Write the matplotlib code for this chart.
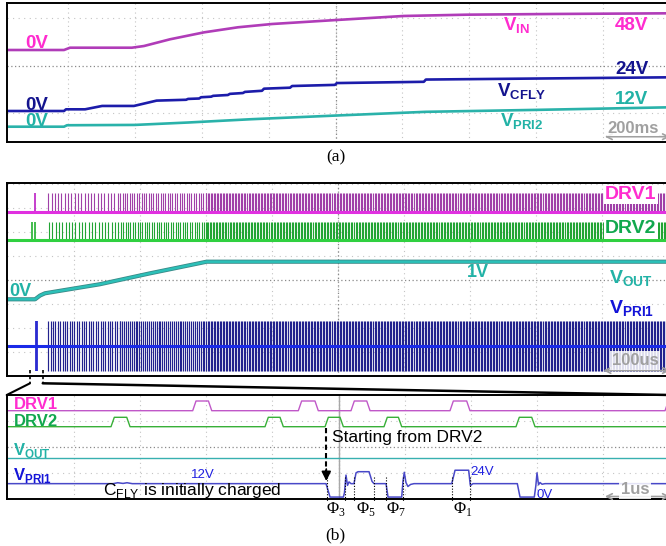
import numpy as np
import matplotlib.pyplot as plt
from matplotlib.patches import ConnectionPatch

plt.rcParams['font.family'] = ['Liberation Sans', 'DejaVu Sans']
plt.rcParams['mathtext.fontset'] = 'custom'
plt.rcParams['mathtext.rm'] = 'Liberation Serif'
plt.rcParams['mathtext.bf'] = 'Liberation Sans:bold'
plt.rcParams['mathtext.sf'] = 'Liberation Sans'

W, H = 666, 546

# ---------- (a) start-up, 200 ms/div (time in ms, volts) ----------
vin_t = [16, 188, 206, 391, 427, 505, 607, 708, 810, 1001, 1204, 1393, 1647, 2000]
vin_v = [0, 0, 3.0, 3.0, 5.2, 14.0, 23.1, 29.7, 34.0, 39.2, 44.5, 46.2, 47.1, 48.0]

vcfly_t = [16, 188, 194, 251, 302, 397, 465, 553, 559, 592, 598, 628, 634, 678, 684,
           723, 729, 780, 786, 864, 870, 998, 1004, 1264, 1270, 2000]
vcfly_v = [0, 0, 1.2, 1.2, 3.6, 3.6, 7.4, 8.0, 8.6, 8.9, 9.8, 10.2, 10.8, 11.4, 12.2,
           12.8, 13.6, 14.4, 15.9, 16.6, 17.8, 18.6, 19.9, 20.8, 22.4, 24.0]

vpri2_t = [16, 188, 197, 400, 560, 745, 1001, 1270, 1600, 2000]
vpri2_v = [0, 0, 0.9, 1.1, 2.6, 4.6, 6.9, 9.2, 10.4, 12.0]

# ---------- (b) top, 100 us/div (time in us) ----------
span_b1 = [-2, 1003]
vout_t = [-2, 41, 48.5, 56, 139, 215, 301, 1003]
vout_v = [0, 0, 0.1, 0.16, 0.40, 0.69, 1.0, 1.0]

drv1_spike = [40.2]
drv2_spike = [37.0, 40.9]
vpri1_spike = [41.7, 44.0]

# switching bursts: start, end, pulse pitch (us)
burst_start = [61, 170, 300]
burst_end = [170, 300, 1003]
drv_pitch = [5.0, 3.6, 2.3]
vpri1_pitch = [3.6, 2.9, 2.3]

# ---------- (b) bottom, 1 us/div (time in us) ----------
drv1_rise = [2.794, 4.392, 5.189, 6.687, 9.94]
drv1_fall = [3.082, 4.694, 5.477, 6.989, 10.3]
drv2_rise = [1.558, 3.888, 4.796, 5.688, 7.685]
drv2_fall = [1.846, 4.165, 5.073, 5.956, 7.973]

vout_lo_t = [0, 10.02]
vout_lo_v = [1.0, 1.0]

vpri1_lo_t = [0.0, 1.59, 1.66, 1.74, 1.80, 1.88,
              4.811, 4.872, 5.073, 5.090, 5.113, 5.136, 5.159, 5.189,
              5.234, 5.265, 5.295, 5.462, 5.507, 5.537,
              5.719, 5.749, 5.956, 5.975, 5.995, 6.020, 6.050, 6.090, 6.142,
              6.713, 6.763, 6.969, 6.994, 7.035,
              7.705, 7.746, 7.962, 7.985, 8.003, 8.026, 8.048, 8.079, 8.124,
              10.02]
vpri1_lo_v = [12, 12, 12.8, 12.2, 12.8, 12,
              12, 0.2, 0.2, 4, 19.5, 10.5, 13.5, 12,
              12, 21.5, 22.5, 22.5, 14, 12,
              12, 0.2, 0.2, 14, 22, 13, 9.5, 11.3, 12,
              12, 23.8, 23.8, 10.5, 12,
              12, 0.2, 0.2, 10, 21.5, 11, 13, 11.5, 12,
              12]

phase_edges = [4.821, 5.098, 5.234, 5.537, 5.719, 5.980, 6.713, 6.989]
phase_names = [r'$\Phi_3$', r'$\Phi_5$', r'$\Phi_7$', r'$\Phi_1$']
phase_x = [336, 365.8, 395.8, 462.5]

zoom_window = [33.3, 52.6]

MAG, NAVY, TEAL = '#ff2ccf', '#14148e', '#22b2a6'
GRN, BLUE, GREY = '#12a84e', '#1414d8', '#a0a0a0'

fig = plt.figure(figsize=(W / 100, H / 100), dpi=100)


def px_axes(left, top, right, bottom):
    return fig.add_axes([left / W, 1 - bottom / H, (right - left) / W, (bottom - top) / H])


def scr(v, zero, ppv):
    # volts -> screen position for a channel
    return zero - np.asarray(v, float) * ppv


def ftext(x, y, s, **kw):
    fig.text(x / W, 1 - y / H, s, **kw)


def scope(ax, xlim, ylim, grid_t, centre_t, rows, centre_row):
    ax.set_xlim(xlim)
    ax.set_ylim(ylim)
    ax.set_xticks([])
    ax.set_yticks([])
    for s in ax.spines.values():
        s.set_linewidth(1.4)
    for t in grid_t:
        ax.axvline(t, color='#c4c4c4', lw=0.8, ls=(0, (1, 3)), zorder=0)
    ax.axvline(centre_t, color='#8a8a8a', lw=0.9, ls=(0, (1, 2)), zorder=0)
    for r in rows:
        ax.axhline(r, color='#c4c4c4', lw=0.8, ls=(0, (1, 4)), zorder=0)
    ax.axhline(centre_row, color='#8a8a8a', lw=0.9, ls=(0, (1, 2)), zorder=0)


def bursts(starts, ends, pitches):
    return np.concatenate([np.arange(s, e, p) for s, e, p in zip(starts, ends, pitches)])


def trapezoid(rise, fall, edge, t_end, hi=5.0):
    t, v = [0.0], [0.0]
    for r, f in zip(rise, fall):
        t += [r, r + edge, f - edge, f]
        v += [0, hi, hi, 0]
    t.append(t_end)
    v.append(0)
    return t, v


# ================= panel (a) =================
ax_a = px_axes(6.7, 3.3, 670, 142.3)
scope(ax_a, (16.7, 2000), (142.3, 3.3), range(200, 2000, 200), 1000,
      [18.3, 113.1], 65.7)
ax_a.plot(vin_t, scr(vin_v, 50, 0.7646), color='#b03cb8', lw=1.9)
ax_a.plot(vcfly_t, scr(vcfly_v, 111, 1.404), color='#1c1caa', lw=1.9)
ax_a.plot(vpri2_t, scr(vpri2_v, 126.7, 1.617), color='#2ab2aa', lw=1.9)

big = dict(fontsize=13.5, fontweight='bold', va='baseline')
ftext(37, 48.3, '0V', color=MAG, ha='center', **big)
ftext(37, 110, '0V', color=NAVY, ha='center', **big)
ftext(37, 126, '0V', color=TEAL, ha='center', **big)
ftext(503.3, 30.7, r'$\mathbf{V}_{\mathbf{IN}}$', color=MAG, ha='left', **big)
ftext(497.3, 96.7, r'$\mathbf{V}_{\mathbf{CFLY}}$', color=NAVY, ha='left', **big)
ftext(500, 126.7, r'$\mathbf{V}_{\mathbf{PRI2}}$', color=TEAL, ha='left', **big)
ftext(615, 30, '48V', color=MAG, ha='left', **big)
ftext(615, 74, '24V', color=NAVY, ha='left', **big)
ftext(615, 104, '12V', color=TEAL, ha='left', **big)
ftext(633, 132.7, '200ms', color=GREY, ha='center', fontsize=12,
      fontweight='bold', va='baseline',
      bbox=dict(fc='white', ec='none', pad=0.5, alpha=0.85))
ax_a.annotate('', xy=(1805, 136.7), xytext=(2000, 136.7),
              arrowprops=dict(arrowstyle='<->', color=GREY, lw=1.2,
                              shrinkA=0, shrinkB=0))
ftext(335.6, 157.5, '(a)', ha='center', va='center', fontsize=12.5,
      family='Liberation Serif')

# ================= panel (b) top =================
ax_b1 = px_axes(6.7, 183.3, 670, 376)
scope(ax_b1, (-2, 1003), (376, 183.3), range(100, 1001, 100), 500,
      [280 + 24.1 * k for k in (-4, -3, -2, -1, 1, 2, 3)], 280)

drv_times = bursts(burst_start, burst_end, drv_pitch)
pri_times = bursts(burst_start, burst_end, vpri1_pitch)

ax_b1.vlines(drv_times, scr(0, 211.7, 3.68), scr(5, 211.7, 3.68), color='#a040a8', lw=0.8)
ax_b1.vlines(drv1_spike, scr(0, 211.7, 3.68), scr(5, 211.7, 3.68), color='#c030c8', lw=1.3)
ax_b1.plot(span_b1, scr([0, 0], 211.7, 3.68), color='#e030e0', lw=2.2)

ax_b1.vlines(drv_times + 1.1, scr(0, 240, 3.66), scr(5, 240, 3.66), color='#22a434', lw=0.8)
ax_b1.vlines(drv2_spike, scr(0, 240, 3.66), scr(5, 240, 3.66), color='#22b030', lw=1.2)
ax_b1.plot(span_b1, scr([0, 0], 240, 3.66), color='#30d040', lw=2.2)

ax_b1.plot(vout_t, scr(vout_v, 299.3, 37.6), color='#3a8a88', lw=3.0)
ax_b1.plot(vout_t, scr(vout_v, 299.3, 37.6), color='#2cc0b8', lw=1.8)

ax_b1.vlines(pri_times, scr(0, 371.3, 2.1), scr(24, 371.3, 2.1), color='#22228e', lw=0.85)
ax_b1.vlines(vpri1_spike, scr(0, 371.3, 2.1), scr(24, 371.3, 2.1), color='#2a2ad0', lw=1.3)
ax_b1.plot(span_b1, scr([12, 12], 371.3, 2.1), color='#1a2ae8', lw=2.2)

for t in zoom_window:
    ax_b1.plot([t, t], [370, 383.3], color='black', lw=1.2, ls=(0, (2, 1.5)),
               clip_on=False)

mid = dict(fontsize=14, fontweight='bold', va='baseline', ha='left')
ftext(605, 199, 'DRV1', color=MAG, bbox=dict(fc='white', ec='none', pad=1), **mid)
ftext(605, 233.3, 'DRV2', color=GRN, bbox=dict(fc='white', ec='none', pad=1), **mid)
ftext(609, 283.3, r'$\mathbf{V}_{\mathbf{OUT}}$', color=TEAL, **mid)
ftext(609, 313.3, r'$\mathbf{V}_{\mathbf{PRI1}}$', color=BLUE, **mid)
ftext(477.5, 276.7, '1V', color=TEAL, ha='center', va='baseline', fontsize=13,
      fontweight='bold')
ftext(9.3, 295.7, '0V', color=TEAL, ha='left', va='baseline', fontsize=13,
      fontweight='bold')
ftext(635, 365, '100us', color=GREY, ha='center', va='baseline', fontsize=12,
      fontweight='bold', bbox=dict(fc='white', ec='none', pad=1.5, alpha=0.85))
ax_b1.annotate('', xy=(902, 370.5), xytext=(1003, 370.5),
               arrowprops=dict(arrowstyle='<->', color=GREY, lw=1.2,
                               shrinkA=0, shrinkB=0), annotation_clip=False)

# ================= panel (b) bottom =================
ax_b2 = px_axes(6.7, 395, 670, 499.3)
scope(ax_b2, (-0.02, 10.015), (499.3, 395), range(1, 11), 5,
      [421, 473], 447)
ax_b2.axvline(5.012, color='#a8a8a8', lw=1.0, zorder=1)

t1, v1 = trapezoid(drv1_rise, drv1_fall, 0.05, 10.5)
t2, v2 = trapezoid(drv2_rise, drv2_fall, 0.05, 10.5)
ax_b2.plot(t1, scr(v1, 410.7, 1.94), color='#c058c8', lw=1.0)
ax_b2.plot(t2, scr(v2, 426.7, 1.88), color='#38b038', lw=1.0)
ax_b2.plot(vout_lo_t, scr(vout_lo_v, 478.3, 20), color='#38b0b0', lw=1.0)
ax_b2.plot(vpri1_lo_t, scr(vpri1_lo_v, 497.3, 1.1375), color='#4848c8', lw=1.1)

for t in phase_edges:
    ax_b2.plot([t, t], [476.7, 501.5], color='black', lw=0.8, ls=(0, (1, 1.5)),
               clip_on=False)

# dashed arrow "Starting from DRV2"
ax_b2.plot([4.815, 4.815], [428, 472], color='black', lw=1.5, ls=(0, (2.5, 1.5)))
ax_b2.annotate('', xy=(4.815, 481), xytext=(4.815, 469),
               arrowprops=dict(arrowstyle='-|>', color='black', lw=1.2,
                               mutation_scale=14, shrinkA=0, shrinkB=0))

small = dict(fontsize=12, fontweight='bold', va='baseline', ha='left')
ftext(14, 409.3, 'DRV1', color=MAG, **small)
ftext(14, 426, 'DRV2', color=GRN, **small)
ftext(13, 455, r'$\mathbf{V}_{\mathbf{OUT}}$', color=TEAL, **small)
ftext(13, 480, r'$\mathbf{V}_{\mathbf{PRI1}}$', color=BLUE, **small)
ftext(190.7, 477.5, '12V', color='#2020e0', fontsize=9.5, va='baseline', ha='left')
ftext(470, 475, '24V', color='#2020e0', fontsize=9.5, va='baseline', ha='left')
ftext(536.7, 497.7, '0V', color='#2020e0', fontsize=9.5, va='baseline', ha='left')
ftext(331.7, 441.7, 'Starting from DRV2', color='black', fontsize=12.5,
      va='baseline', ha='left')
ftext(102.7, 495, r'C$_{\mathsf{FLY}}$ is initially charged', color='black',
      fontsize=12.5, va='baseline', ha='left')
ftext(635, 493.5, '1us', color=GREY, ha='center', va='baseline', fontsize=12,
      fontweight='bold', bbox=dict(fc='white', ec='none', pad=1.5, alpha=0.85))
ax_b2.annotate('', xy=(9.03, 496.5), xytext=(10.015, 496.5),
               arrowprops=dict(arrowstyle='<->', color=GREY, lw=1.2,
                               shrinkA=0, shrinkB=0), annotation_clip=False)

for name, x in zip(phase_names, phase_x):
    ftext(x, 513, name, color='black', fontsize=12, ha='center', va='baseline')
ftext(335.6, 535.8, '(b)', ha='center', va='center', fontsize=12.5,
      family='Liberation Serif')

# zoom lines from the top trace window to the detailed view
for t, corner, lw in ((zoom_window[0], -0.02, 1.5), (zoom_window[1], 10.015, 1.8)):
    con = ConnectionPatch(xyA=(t, 383.3), coordsA=ax_b1.transData,
                          xyB=(corner, 395), coordsB=ax_b2.transData,
                          color='black', lw=lw)
    fig.add_artist(con)

fig.savefig('out.png', dpi=100)
